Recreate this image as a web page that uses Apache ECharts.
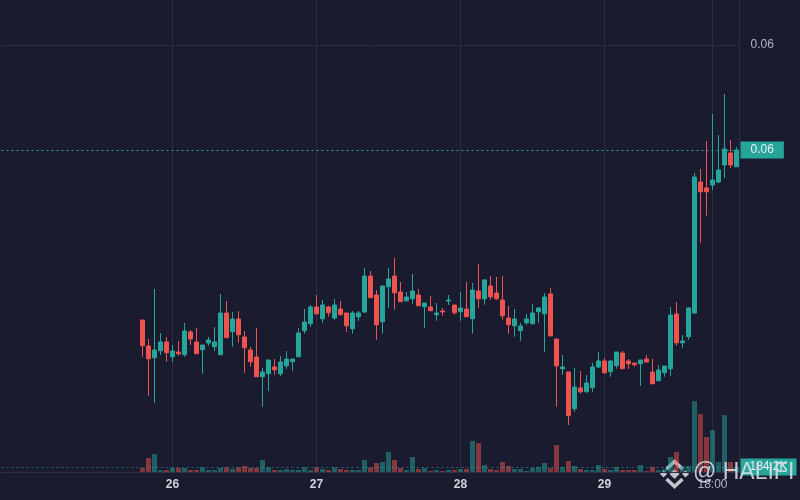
<!DOCTYPE html>
<html>
<head>
<meta charset="utf-8">
<title>HALIFI 1h</title>
<script src="https://cdn.jsdelivr.net/npm/echarts@6/dist/echarts.min.js"></script>
<style>
  html, body { margin: 0; padding: 0; background: #1a1b2e; }
  #chart { width: 800px; height: 500px; }
</style>
</head>
<body>
<div id="chart"></div>
<script>
// hourly candles, 25th 19:00 -> 29th 22:00
const opens = [
  0.04900, 0.04796, 0.04749, 0.04777, 0.04812, 0.04753, 0.04772, 0.04761, 0.04852, 0.04812,
  0.04781, 0.04808, 0.04793, 0.04761, 0.04928, 0.04853, 0.04904, 0.04832, 0.04780, 0.04752,
  0.04673, 0.04685, 0.04712, 0.04685, 0.04717, 0.04733, 0.04753, 0.04857, 0.04885, 0.04952,
  0.04905, 0.04952, 0.04908, 0.04944, 0.04928, 0.04865, 0.04913, 0.04932, 0.05076, 0.05000,
  0.04893, 0.05033, 0.05076, 0.05012, 0.04977, 0.04985, 0.05000, 0.04953, 0.04952, 0.04921,
  0.04936, 0.04976, 0.04960, 0.04933, 0.04944, 0.04905, 0.05016, 0.04985, 0.05036, 0.05008,
  0.04980, 0.04908, 0.04877, 0.04857, 0.04889, 0.04885, 0.04933, 0.04925, 0.05004, 0.04824,
  0.04705, 0.04692, 0.04545, 0.04628, 0.04613, 0.04629, 0.04712, 0.04736, 0.04693, 0.04717,
  0.04768, 0.04736, 0.04728, 0.04725, 0.04744, 0.04692, 0.04657, 0.04689, 0.04705, 0.04924,
  0.04809, 0.04833, 0.04928, 0.05452, 0.05428, 0.05440, 0.05452, 0.05520, 0.05568, 0.05513
];
const closes = [
  0.04797, 0.04745, 0.04780, 0.04812, 0.04769, 0.04776, 0.04765, 0.04856, 0.04824, 0.04765,
  0.04800, 0.04820, 0.04812, 0.04928, 0.04829, 0.04904, 0.04841, 0.04789, 0.04733, 0.04673,
  0.04692, 0.04740, 0.04701, 0.04732, 0.04744, 0.04744, 0.04848, 0.04892, 0.04952, 0.04925,
  0.04960, 0.04929, 0.04960, 0.04921, 0.04877, 0.04928, 0.04928, 0.05076, 0.04989, 0.04881,
  0.05036, 0.05064, 0.05009, 0.04973, 0.04992, 0.05016, 0.04957, 0.04968, 0.04937, 0.04928,
  0.04932, 0.04980, 0.04929, 0.04948, 0.04913, 0.05020, 0.04985, 0.05060, 0.04993, 0.04985,
  0.04917, 0.04881, 0.04904, 0.04876, 0.04904, 0.04928, 0.04948, 0.04992, 0.04837, 0.04717,
  0.04712, 0.04517, 0.04632, 0.04613, 0.04648, 0.04712, 0.04736, 0.04689, 0.04736, 0.04772,
  0.04705, 0.04725, 0.04721, 0.04740, 0.04732, 0.04645, 0.04700, 0.04716, 0.04920, 0.04809,
  0.04816, 0.04948, 0.05472, 0.05413, 0.05413, 0.05460, 0.05500, 0.05584, 0.05520, 0.05580
];
const lows = [
  0.04753, 0.04597, 0.04569, 0.04760, 0.04733, 0.04733, 0.04757, 0.04753, 0.04800, 0.04765,
  0.04685, 0.04797, 0.04777, 0.04761, 0.04829, 0.04793, 0.04809, 0.04689, 0.04713, 0.04673,
  0.04553, 0.04617, 0.04681, 0.04676, 0.04705, 0.04697, 0.04753, 0.04845, 0.04873, 0.04921,
  0.04889, 0.04913, 0.04901, 0.04921, 0.04853, 0.04845, 0.04897, 0.04928, 0.04989, 0.04821,
  0.04845, 0.04949, 0.04941, 0.04973, 0.04973, 0.04965, 0.04957, 0.04869, 0.04937, 0.04897,
  0.04917, 0.04960, 0.04921, 0.04897, 0.04913, 0.04845, 0.04949, 0.04961, 0.04981, 0.04981,
  0.04901, 0.04845, 0.04833, 0.04817, 0.04881, 0.04885, 0.04889, 0.04773, 0.04833, 0.04553,
  0.04681, 0.04480, 0.04533, 0.04605, 0.04609, 0.04613, 0.04708, 0.04685, 0.04673, 0.04705,
  0.04705, 0.04705, 0.04713, 0.04637, 0.04732, 0.04645, 0.04657, 0.04673, 0.04677, 0.04797,
  0.04789, 0.04821, 0.04924, 0.05209, 0.05317, 0.05420, 0.05448, 0.05468, 0.05508, 0.05512
];
const highs = [
  0.04900, 0.04824, 0.05024, 0.04848, 0.04832, 0.04800, 0.04816, 0.04888, 0.04860, 0.04868,
  0.04800, 0.04832, 0.04872, 0.05004, 0.04976, 0.04932, 0.04936, 0.04856, 0.04792, 0.04868,
  0.04708, 0.04740, 0.04744, 0.04756, 0.04776, 0.04744, 0.04867, 0.04944, 0.04960, 0.05000,
  0.04980, 0.04957, 0.04984, 0.04976, 0.04928, 0.04936, 0.04936, 0.05108, 0.05096, 0.05020,
  0.05036, 0.05108, 0.05148, 0.05052, 0.05012, 0.05084, 0.05024, 0.04968, 0.04996, 0.04968,
  0.04948, 0.05000, 0.04960, 0.05012, 0.05052, 0.05048, 0.05124, 0.05064, 0.05076, 0.05072,
  0.05076, 0.04956, 0.04944, 0.04888, 0.04924, 0.04964, 0.04952, 0.05008, 0.05028, 0.04824,
  0.04760, 0.04692, 0.04708, 0.04696, 0.04680, 0.04728, 0.04772, 0.04748, 0.04740, 0.04772,
  0.04776, 0.04744, 0.04728, 0.04740, 0.04760, 0.04744, 0.04720, 0.04716, 0.04952, 0.04972,
  0.04840, 0.04952, 0.05488, 0.05504, 0.05616, 0.05724, 0.05640, 0.05804, 0.05620, 0.05593
];
const volumes = [
  147000, 515000, 662000, 63000, 74000, 147000, 147000, 147000, 74000, 74000,
  173000, 74000, 74000, 147000, 173000, 110000, 173000, 221000, 147000, 147000,
  442000, 173000, 74000, 74000, 110000, 74000, 74000, 173000, 74000, 173000,
  110000, 74000, 173000, 110000, 74000, 74000, 74000, 442000, 173000, 331000,
  368000, 736000, 442000, 147000, 74000, 552000, 110000, 147000, 37000, 74000,
  37000, 74000, 74000, 110000, 110000, 1141000, 1067000, 258000, 110000, 74000,
  368000, 221000, 110000, 110000, 37000, 147000, 184000, 331000, 147000, 994000,
  184000, 405000, 221000, 110000, 74000, 74000, 258000, 110000, 74000, 184000,
  74000, 74000, 74000, 258000, 37000, 184000, 74000, 110000, 552000, 736000,
  221000, 221000, 2613000, 2134000, 1288000, 1546000, 368000, 2098000, 368000, 184200
];

// empty hours before the first candle keep the time scale where it is
const firstDay = 24, firstHour = 20, slotCount = 123;
const categories = [];
for (let i = 0; i < slotCount; i++) {
  const h = firstHour + i;
  categories.push((firstDay + Math.floor(h / 24)) + ' ' + String(h % 24).padStart(2, '0') + ':00');
}
const tickLabels = ['26 00:00', '27 00:00', '28 00:00', '29 00:00', '29 18:00'];
const priceTicks = [0.06];

const up = '#26a69a', down = '#ef5350';
const pad = categories.length - opens.length;

const candleData = categories.map((c, i) => {
  if (i < pad) return '-';
  const k = i - pad;
  return [opens[k], closes[k], lows[k], highs[k]];
});
const volumeData = categories.map((c, i) => {
  if (i < pad) return '-';
  const k = i - pad;
  return {
    value: volumes[k],
    itemStyle: { color: closes[k] >= opens[k] ? 'rgba(38,166,154,0.5)' : 'rgba(239,83,80,0.5)' }
  };
});

const chart = echarts.init(document.getElementById('chart'));
chart.setOption({
  backgroundColor: '#1a1b2e',
  animation: false,
  textStyle: { fontFamily: 'Liberation Sans, Arial, sans-serif' },
  grid: [
    { left: 1.5, right: 60.5, top: -2, bottom: -45, outerBoundsMode: 'none' },
    { left: 1.5, right: 60.5, top: 0, bottom: 28, outerBoundsMode: 'none' }
  ],
  xAxis: [
    { type: 'category', gridIndex: 0, data: categories, show: false },
    {
      type: 'category', gridIndex: 1, data: categories,
      axisLine: { lineStyle: { color: '#2e3042' } },
      axisTick: { show: false },
      axisLabel: {
        interval: (i, v) => tickLabels.includes(v),
        margin: 7,
        formatter: v => v.endsWith(' 00:00') ? '{d|' + v.split(' ')[0] + '}' : '{t|' + v.split(' ')[1] + '}',
        rich: {
          d: { color: '#d1d4dc', fontWeight: 'bold', fontSize: 12 },
          t: { color: '#b2b5be', fontSize: 12 }
        }
      },
      splitLine: {
        show: true,
        alignWithLabel: true,
        interval: (i, v) => tickLabels.includes(v),
        lineStyle: { color: '#2a2c40' }
      }
    }
  ],
  yAxis: [
    {
      type: 'value', gridIndex: 0, position: 'right',
      min: 0.04, max: 0.06188, interval: 0.02,
      axisLine: { show: false }, axisTick: { show: false },
      axisLabel: {
        color: '#b2b5be', fontSize: 12, margin: 11,
        formatter: v => priceTicks.some(t => Math.abs(t - v) < 1e-9) ? v.toFixed(2) : ''
      },
      splitLine: { lineStyle: { color: '#2a2c40' } }
    },
    {
      type: 'value', gridIndex: 1, position: 'right',
      min: 0, max: 17400000,
      axisLine: { show: true, lineStyle: { color: '#2a2c40' } },
      axisTick: { show: false }, axisLabel: { show: false },
      splitLine: { show: false }
    }
  ],
  series: [
    {
      name: 'Volume', type: 'bar', xAxisIndex: 1, yAxisIndex: 1,
      data: volumeData, barWidth: 5,
      markLine: {
        symbol: 'none', silent: true, precision: 1,
        lineStyle: { color: 'rgba(38,166,154,0.6)', type: [2, 3], width: 1 },
        label: {
          position: 'end', distance: 1, backgroundColor: up, color: '#eef',
          padding: [3, 9, 2, 9], fontSize: 12,
          formatter: p => (p.value / 1000).toFixed(1) + 'K'
        },
        data: [{ yAxis: volumes[volumes.length - 1] }]
      }
    },
    {
      name: 'HALIFI', type: 'candlestick', xAxisIndex: 0, yAxisIndex: 0,
      data: candleData, barWidth: 4,
      itemStyle: { color: up, color0: down, borderColor: up, borderColor0: down, borderWidth: 1 },
      markLine: {
        symbol: 'none', silent: true, precision: 5,
        lineStyle: { color: up, type: [2, 3], width: 1 },
        label: {
          position: 'end', distance: 1, backgroundColor: up, color: '#eef',
          padding: [3, 10, 2, 10], fontSize: 12,
          formatter: p => p.value.toFixed(2)
        },
        data: [{ yAxis: closes[closes.length - 1] }]
      }
    }
  ],
  graphic: [
    {
      type: 'group', left: 660, top: 459, z: 100, silent: true,
      children: [
        { type: 'rect', x: 14, y: 14, rotation: Math.PI / 4, shape: { x: -3.5, y: -3.5, width: 7, height: 7 }, style: { fill: 'rgba(225,225,230,0.85)' } },
        { type: 'rect', x: 3, y: 14, rotation: Math.PI / 4, shape: { x: -2.5, y: -2.5, width: 5, height: 5 }, style: { fill: 'rgba(225,225,230,0.85)' } },
        { type: 'rect', x: 25, y: 14, rotation: Math.PI / 4, shape: { x: -2.5, y: -2.5, width: 5, height: 5 }, style: { fill: 'rgba(225,225,230,0.85)' } },
        { type: 'polyline', shape: { points: [[6, 9], [14, 1.5], [22, 9]] }, style: { stroke: 'rgba(225,225,230,0.85)', lineWidth: 3.5, fill: null } },
        { type: 'polyline', shape: { points: [[6, 19], [14, 26.5], [22, 19]] }, style: { stroke: 'rgba(225,225,230,0.85)', lineWidth: 3.5, fill: null } }
      ]
    },
    {
      type: 'text', left: 693, top: 461, z: 100, silent: true,
      style: { text: '@ HALIFI', fill: 'rgba(225,225,230,0.85)', font: '23px Liberation Sans, Arial, sans-serif' }
    }
  ]
});
window.addEventListener('resize', () => chart.resize());
</script>
</body>
</html>
